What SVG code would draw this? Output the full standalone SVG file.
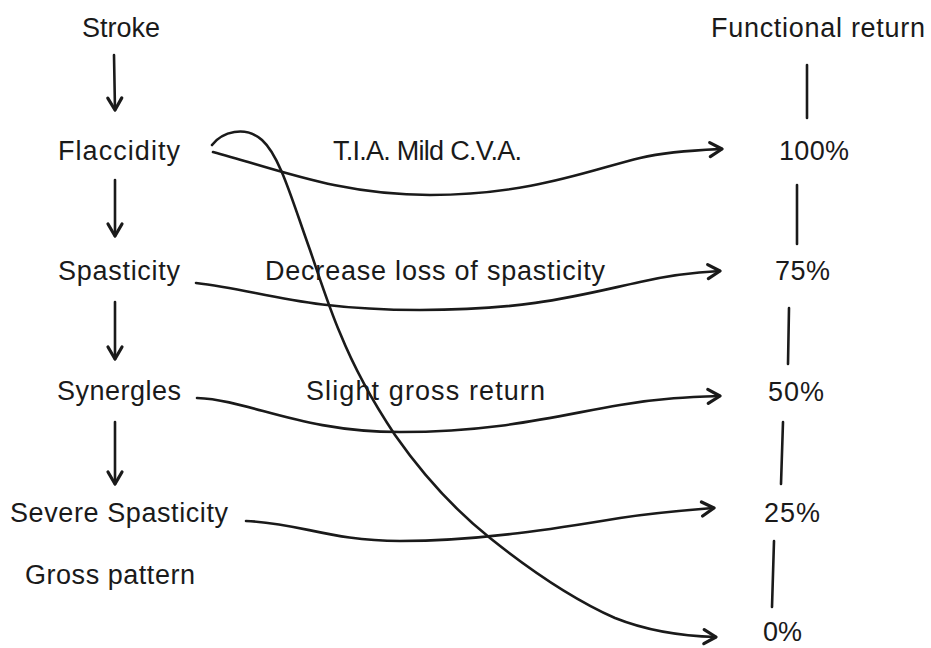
<svg xmlns="http://www.w3.org/2000/svg" width="931" height="648" viewBox="0 0 931 648">
<defs>
<marker id="ah" markerUnits="userSpaceOnUse" markerWidth="30" markerHeight="30" refX="0" refY="0" viewBox="-15 -15 30 30" orient="auto" overflow="visible">
<path d="M-12,-7 L0,0 L-12,7" fill="none" stroke="#1a1a1a" stroke-width="3.2" stroke-linecap="round" stroke-linejoin="round"/>
</marker>
<style>
text{font-family:"Liberation Sans",Arial,sans-serif;font-size:27px;fill:#1a1a1a}
.c{fill:none;stroke:#1a1a1a;stroke-width:2.6;stroke-linecap:round}
.a{marker-end:url(#ah)}
</style>
</defs>
<rect width="931" height="648" fill="#fff"/>
<g id="connectors">
<path class="c a" d="M114,55 L115,110"/>
<path class="c a" d="M115,180 L115,236"/>
<path class="c a" d="M115,302 L115,359"/>
<path class="c a" d="M115,422 L115,484"/>
<path class="c" d="M807,65 L807,118"/>
<path class="c" d="M797,185 L797,244"/>
<path class="c" d="M789,308 L788,364"/>
<path class="c" d="M783,422 L781,484"/>
<path class="c" d="M774,541 L772,607"/>
<path class="c a" d="M213,152 C280,170 340,195 430,195 C530,195 590,170 640,158 C670,151 700,150 722,149"/>
<path class="c a" d="M196,283 C260,290 300,310 420,310 C530,310 580,295 640,282 C670,275 700,272 720,271"/>
<path class="c a" d="M197,398 C250,400 300,432 400,432 C500,432 560,415 620,405 C660,398 690,397 720,396"/>
<path class="c a" d="M246,521 C300,523 330,541 400,541 C480,541 560,528 620,518 C660,512 690,510 714,508"/>
<path class="c a" d="M212,145 C222,132 245,125 262,140 C280,156 292,200 310,250 C322,285 330,310 340,333 C355,370 375,405 395,435 C425,478 455,510 490,538 C530,570 570,598 615,618 C645,630 680,636 716,637"/>
</g>
<g id="stroke"><text x="82" y="37" textLength="78">Stroke</text></g>
<g id="flaccidity"><text x="58" y="160" textLength="122">Flaccidity</text></g>
<g id="spasticity"><text x="58" y="280" textLength="122">Spasticity</text></g>
<g id="synergles"><text x="57" y="400" textLength="124">Synergles</text></g>
<g id="severe-spasticity"><text x="10" y="522" textLength="218">Severe Spasticity</text></g>
<g id="gross-pattern"><text x="25" y="584" textLength="170">Gross pattern</text></g>
<g id="functional-return"><text x="711" y="37" textLength="214">Functional return</text></g>
<g id="p100"><text x="779" y="160" textLength="70">100%</text></g>
<g id="p75"><text x="775" y="280" textLength="55">75%</text></g>
<g id="p50"><text x="768" y="401" textLength="56">50%</text></g>
<g id="p25"><text x="764" y="522" textLength="56">25%</text></g>
<g id="p0"><text x="763" y="641" textLength="39">0%</text></g>
<g id="label-tia"><text x="333" y="160" textLength="189">T.I.A. Mild C.V.A.</text></g>
<g id="label-decrease"><text x="265" y="280" textLength="340">Decrease loss of spasticity</text></g>
<g id="label-slight"><text x="306" y="400" textLength="239">Slight gross return</text></g>
</svg>
